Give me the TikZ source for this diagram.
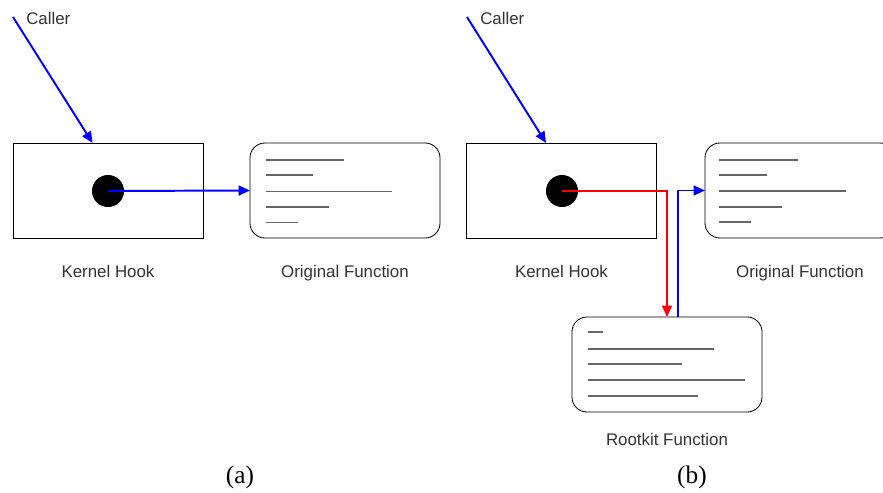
\documentclass[tikz,border=0pt]{standalone}
\usepackage{fontspec}
\setmainfont{Liberation Serif}
\setsansfont{Liberation Sans}
\usepackage{tikz}
\usetikzlibrary{arrows.meta,positioning}

\begin{document}
\begin{tikzpicture}[
    x=0.025cm, y=-0.025cm,
    hookbox/.style={draw, line width=0.6pt, minimum width=4.75cm, minimum height=2.375cm, inner sep=0pt, outer sep=0pt},
    funcbox/.style={hookbox, rounded corners=0.375cm},
    dot/.style={circle, fill=black, minimum size=0.8cm, inner sep=0pt},
    code/.style={line width=1pt, color=black!60},
    lbl/.style={font=\sffamily\fontsize{12}{14}\selectfont, text=black!80, inner sep=0pt, text height=8.8pt, text depth=0pt},
    sub/.style={font=\fontsize{18}{20}\selectfont, inner sep=0pt, anchor=base},
    callarrow/.style={-{Triangle[length=8pt,width=7pt]}, line width=1.4pt, color=blue},
    hookarrow/.style={-{Triangle[length=8pt,width=7pt]}, line width=1pt, color=#1},
]
\useasboundingbox (0,0) rectangle (883,493);
\clip (0,0) rectangle (883,493);

% -- (a) plain hook --
\node[hookbox] (hookA) at (108,190.5) {};
\node[dot] (dotA) at (108,191) {};
\node[funcbox] (origA) at (345,190.5) {};
\coordinate (callA) at (13,17);
\node[lbl, anchor=base west] (callerA) at (26,24) {Caller};
\node[lbl, below=0.675cm of hookA] (hookAlbl) {Kernel Hook};
\node[lbl, below=0.675cm of origA] (origAlbl) {Original Function};

% code lines
\draw[code] (266,160) -- (344,160);
\draw[code] (266,175) -- (313,175);
\draw[code] (266,191.5) -- (392,191.5);
\draw[code] (266,207) -- (329,207);
\draw[code] (266,222.5) -- (298,222.5);

\draw[callarrow] (callA) -- (hookA.108.5);
\draw[callarrow] (dotA.center) -- (origA.west);

% -- (b) rootkit hook --
\node[hookbox] (hookB) at (561.5,190.5) {};
\node[dot] (dotB) at (562,191) {};
\node[funcbox] (origB) at (800,190.5) {};
\node[funcbox] (rootB) at (667,364.5) {};
\coordinate (callB) at (467,17);
\node[lbl, anchor=base west] (callerB) at (480,24) {Caller};
\node[lbl, below=0.675cm of hookB] (hookBlbl) {Kernel Hook};
\node[lbl, below=0.675cm of origB] (origBlbl) {Original Function};
\node[lbl, below=0.525cm of rootB] (rootBlbl) {Rootkit Function};

% code lines
\draw[code] (719,160) -- (798,160);
\draw[code] (719,175) -- (767,175);
\draw[code] (719,191) -- (846,191);
\draw[code] (719,207) -- (782,207);
\draw[code] (719,222) -- (751,222);

\draw[code] (588,332) -- (603,332);
\draw[code] (588,349) -- (714,349);
\draw[code] (588,364) -- (682,364);
\draw[code] (588,380) -- (745,380);
\draw[code] (588,396) -- (698,396);

\draw[callarrow] (callB) -- (hookB.108.5);
\draw[hookarrow=red] (dotB.center) -| (rootB.north);
\draw[hookarrow=blue] ([xshift=0.275cm]rootB.north) |- (origB.west);

% -- captions --
\node[sub] (capA) at (240,483.5) {(a)};
\node[sub] (capB) at (692,483.5) {(b)};

\end{tikzpicture}
\end{document}
